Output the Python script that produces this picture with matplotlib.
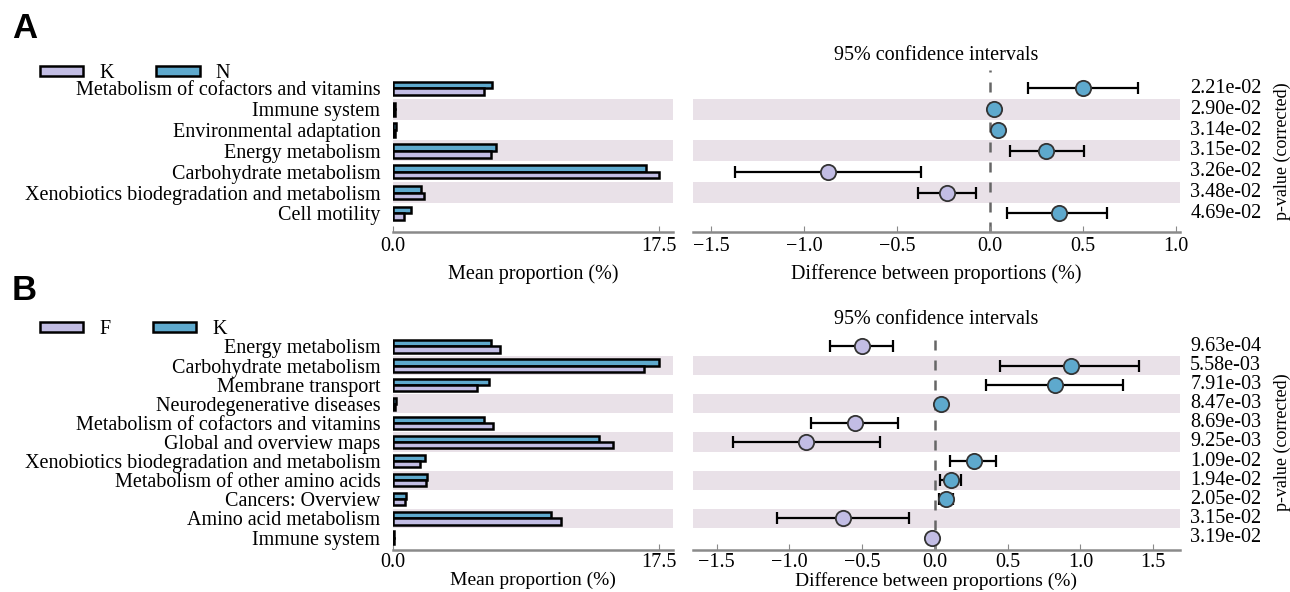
"""
Extended error bar plots (STAMP style): mean proportions per KEGG pathway for
two groups, with the difference between proportions and its 95% CI.
Output: out.png
"""

import matplotlib.pyplot as plt
from matplotlib.patches import Patch
import matplotlib.transforms as mtransforms

LAV = "#c2bde4"
BLUE = "#5ea9cd"
SHADE = "#e9e1e8"
SERIF = ["Liberation Serif", "DejaVu Serif"]
FS = 14.5

# ---- panel A: K vs N ----
cats_a = ["Metabolism of cofactors and vitamins", "Immune system",
          "Environmental adaptation", "Energy metabolism",
          "Carbohydrate metabolism",
          "Xenobiotics biodegradation and metabolism", "Cell motility"]
grp_a = ("K", "N")
mean1_a = [5.96, 0.10, 0.15, 6.47, 17.50, 2.04, 0.75]   # K
mean2_a = [6.53, 0.12, 0.18, 6.80, 16.62, 1.82, 1.16]   # N
diff_a = [0.500, 0.021, 0.039, 0.300, -0.873, -0.232, 0.367]
lo_a = [0.203, 0.016, 0.032, 0.106, -1.372, -0.390, 0.092]
hi_a = [0.795, 0.026, 0.046, 0.502, -0.374, -0.077, 0.627]
p_a = ["2.21e-02", "2.90e-02", "3.14e-02", "3.15e-02", "3.26e-02",
       "3.48e-02", "4.69e-02"]

# ---- panel B: F vs K ----
cats_b = ["Energy metabolism", "Carbohydrate metabolism", "Membrane transport",
          "Neurodegenerative diseases", "Metabolism of cofactors and vitamins",
          "Global and overview maps",
          "Xenobiotics biodegradation and metabolism",
          "Metabolism of other amino acids", "Cancers: Overview",
          "Amino acid metabolism", "Immune system"]
grp_b = ("F", "K")
mean1_b = [7.02, 16.50, 5.53, 0.15, 6.58, 14.47, 1.75, 2.19, 0.79, 11.07, 0.09]  # F
mean2_b = [6.47, 17.50, 6.29, 0.17, 5.99, 13.55, 2.08, 2.26, 0.88, 10.39, 0.07]  # K
diff_b = [-0.498, 0.936, 0.824, 0.040, -0.550, -0.883, 0.268, 0.108, 0.073,
          -0.631, -0.023]
lo_b = [-0.718, 0.451, 0.348, 0.032, -0.853, -1.388, 0.103, 0.032, 0.027,
        -1.085, -0.030]
hi_b = [-0.287, 1.400, 1.296, 0.048, -0.252, -0.378, 0.423, 0.181, 0.126,
        -0.177, -0.016]
p_b = ["9.63e-04", "5.58e-03", "7.91e-03", "8.47e-03", "8.69e-03", "9.25e-03",
       "1.09e-02", "1.94e-02", "2.05e-02", "3.15e-02", "3.19e-02"]


def style_axis(ax, tickpad):
    for s in ("left", "right", "top"):
        ax.spines[s].set_visible(False)
    ax.spines["bottom"].set_color("#8a8a8a")
    ax.spines["bottom"].set_linewidth(1.8)
    ax.tick_params(axis="x", direction="in", length=4, color="#8a8a8a",
                   labelsize=FS, pad=tickpad)
    for t in ax.get_xticklabels():
        t.set_fontfamily(SERIF)


def panel(fig, top, bottom, cats, grp, m1, m2, diff, lo, hi, pvals, margin,
          xlim_r, xticks_r, labelpad, tickpad, xlfs):
    n = len(cats)
    ys = [n - 1 - i for i in range(n)]
    H = 592.0
    b = 1 - bottom / H
    h = (bottom - top) / H
    axl = fig.add_axes([393 / 1290, b, 280 / 1290, h])
    axr = fig.add_axes([692.7 / 1290, b, 487.3 / 1290, h])

    for ax in (axl, axr):
        for i, y in enumerate(ys):
            if i % 2 == 1:
                ax.axhspan(y - 0.5, y + 0.5, color=SHADE, zorder=0, lw=0)
        ax.set_ylim(-margin, n - 1 + margin)

    # left: mean proportions
    bh = 0.32
    axl.barh([y + bh / 2 for y in ys], m2, height=bh, color=BLUE,
             edgecolor="black", lw=1.8, zorder=2)
    axl.barh([y - bh / 2 for y in ys], m1, height=bh, color=LAV,
             edgecolor="black", lw=1.8, zorder=2)
    axl.set_xlim(0, 18.4)
    axl.set_xticks([0, 17.5])
    axl.set_xticklabels(["0.0", "17.5"])
    axl.set_yticks(ys)
    axl.set_yticklabels(cats, fontsize=FS, family=SERIF)
    axl.tick_params(axis="y", length=0, pad=9)
    axl.set_xlabel("Mean proportion (%)", fontsize=xlfs, family=SERIF,
                   labelpad=labelpad)
    style_axis(axl, tickpad)

    # right: difference with 95% CI
    axr.axvline(0, color="#666666", ls=(0, (4, 4)), lw=1.8, zorder=1)
    for y, d, l, u in zip(ys, diff, lo, hi):
        c = BLUE if d > 0 else LAV
        axr.errorbar([d], [y], xerr=[[d - l], [u - d]], fmt="none",
                     ecolor="black", elinewidth=1.6, capsize=4.5,
                     capthick=1.6, zorder=3)
        axr.plot([d], [y], "o", ms=11, mfc=c, mec="#333333", mew=1.3,
                 zorder=4)
    axr.set_xlim(*xlim_r)
    axr.set_xticks(xticks_r)
    axr.set_xticklabels([f"{v:.1f}".replace("-", "\u2212") for v in xticks_r])
    axr.set_yticks([])
    axr.set_xlabel("Difference between proportions (%)", fontsize=xlfs,
                   family=SERIF, labelpad=labelpad)
    axr.set_title("95% confidence intervals", fontsize=FS, family=SERIF,
                  pad=7)
    style_axis(axr, tickpad)

    trans = mtransforms.blended_transform_factory(axr.transAxes, axr.transData)
    for y, p in zip(ys, pvals):
        axr.text(1.021, y, p, transform=trans, fontsize=FS, family=SERIF,
                 va="center", ha="left")
    axr.text(1.211, 0.5, "p-value (corrected)", transform=axr.transAxes,
             rotation=90, fontsize=13, family=SERIF, va="center", ha="center")

    handles = [Patch(facecolor=LAV, edgecolor="black", lw=1.8),
               Patch(facecolor=BLUE, edgecolor="black", lw=1.8)]
    return handles


fig = plt.figure(figsize=(12.9, 5.92), dpi=100)

h_a = panel(fig, 70, 231.7, cats_a, grp_a, mean1_a, mean2_a, diff_a, lo_a,
            hi_a, p_a, 0.88, (-1.6, 1.02), [-1.5, -1.0, -0.5, 0.0, 0.5, 1.0],
            6, 4, FS)
h_b = panel(fig, 334, 550, cats_b, grp_b, mean1_b, mean2_b, diff_b, lo_b,
            hi_b, p_b, 0.65, (-1.665, 1.685),
            [-1.5, -1.0, -0.5, 0.0, 0.5, 1.0, 1.5], 0, 2, 14)

for handles, grp, ytop in ((h_a, grp_a, 54), (h_b, grp_b, 310)):
    fig.legend(handles, grp, loc="upper left",
               bbox_to_anchor=(30 / 1290, 1 - ytop / 592), frameon=False,
               ncol=2, handlelength=2.15, handleheight=0.42,
               handletextpad=0.8, columnspacing=2.1, borderpad=0.0,
               prop={"family": SERIF, "size": FS})

fig.text(12 / 1290, 1 - 28 / 592, "A", fontsize=25, fontweight="bold",
         family=["Liberation Sans", "DejaVu Sans"], va="center", ha="left")
fig.text(12 / 1290, 1 - 290 / 592, "B", fontsize=25, fontweight="bold",
         family=["Liberation Sans", "DejaVu Sans"], va="center", ha="left")

fig.savefig("out.png", dpi=100)
